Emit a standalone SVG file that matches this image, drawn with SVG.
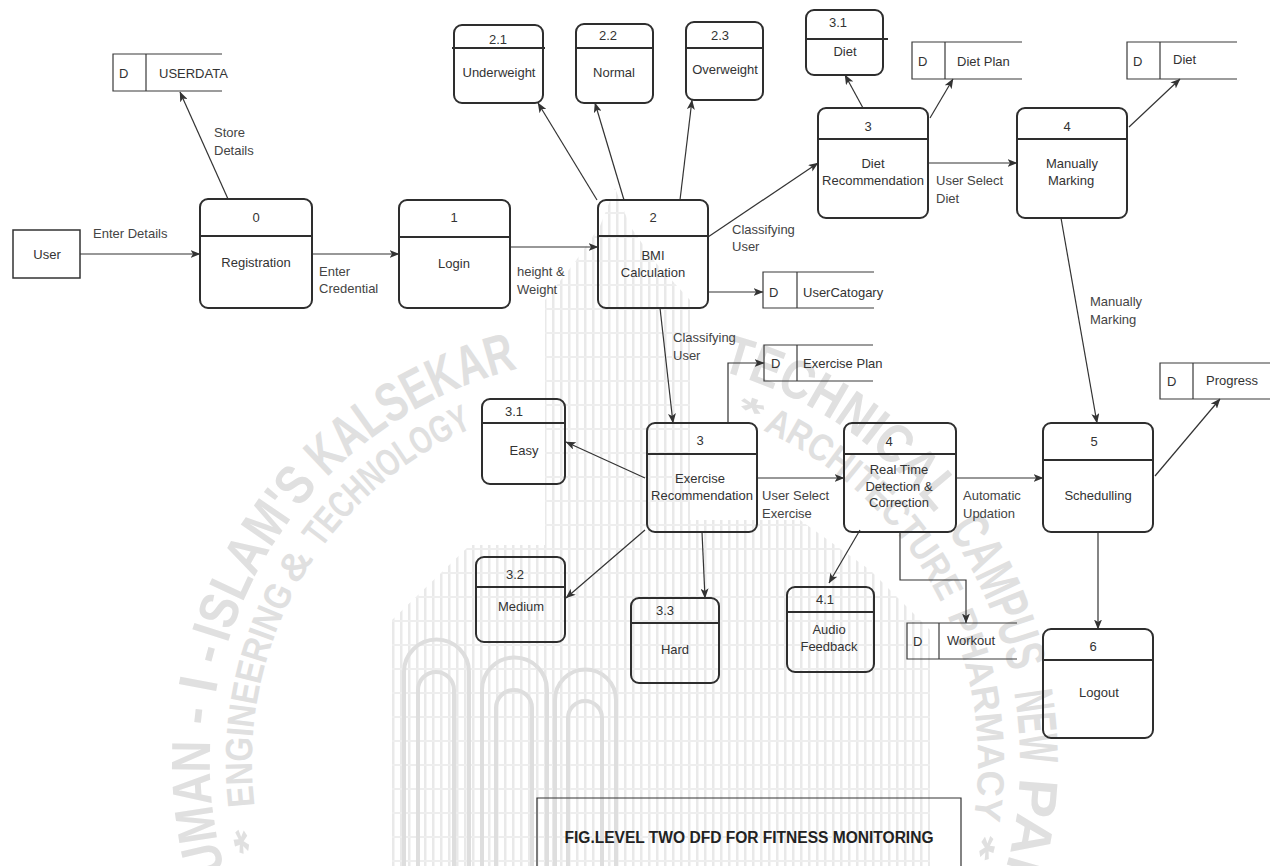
<svg xmlns="http://www.w3.org/2000/svg" width="1271" height="866" viewBox="0 0 1271 866">
  <defs>
    <marker id="arr" markerWidth="10" markerHeight="8" refX="9.5" refY="4" orient="auto" markerUnits="userSpaceOnUse">
      <path d="M0,0 L10,4 L0,8 L2.5,4 Z" fill="#333"/>
    </marker>
    <pattern id="wmTex" width="8" height="24" patternUnits="userSpaceOnUse">
      <rect x="0" y="0" width="2.5" height="24" fill="#e9e9e9"/>
      <rect x="0" y="20" width="8" height="2" fill="#eeeeee"/>
    </pattern>
    <!-- seal rings, traced clockwise from the bottom -->
    <path id="ringOuter" d="M615,1167 A405,405 0 0 1 210,762 A405,405 0 0 1 615,357 A405,405 0 0 1 1020,762 A405,405 0 0 1 615,1167"/>
    <path id="ringInner" d="M615,1125 A363,363 0 0 1 252,762 A363,363 0 0 1 615,399 A363,363 0 0 1 978,762 A363,363 0 0 1 615,1125"/>
  </defs>
  <style>
    text { font-family: "Liberation Sans", Arial, sans-serif; font-size: 13px; fill: #333; }
    .c { text-anchor: middle; }
    .lbl { fill: #444; }
    .proc rect { fill: none; stroke: #2e2e2e; stroke-width: 2; }
    .proc line { stroke: #2e2e2e; stroke-width: 2; }
    .ent rect { fill: none; stroke: #333; stroke-width: 1.5; }
    .store path { fill: none; stroke: #3a3a3a; stroke-width: 1.2; }
    #connectors path { fill: none; stroke: #333; stroke-width: 1.2; marker-end: url(#arr); }
    .wm text { font-weight: bold; fill: #e0e0e0; }
    .wm .o { font-size: 55px; }
    .wm .i { font-size: 38px; }
    .caption path { fill: none; stroke: #333; stroke-width: 1.2; }
    .caption text { font-weight: bold; font-size: 16px; fill: #222; }
  </style>

  <rect x="0" y="0" width="1271" height="866" fill="#fff"/>

  <!-- faint campus seal in the background -->
  <g id="seal" class="wm">
    <path d="M392,866 V620 L470,545 H545 V300 L575,262 L600,226 L615,188 L630,226 L655,262 L690,300 V520 H800 L870,570 L930,630 V866 Z" fill="url(#wmTex)"/>
    <g fill="none" stroke="#dedede" stroke-width="4">
      <path d="M404,866 V672 A32.5,32.5 0 0 1 469,672 V866"/>
      <path d="M482,866 V690 A32.5,32.5 0 0 1 547,690 V866"/>
      <path d="M555,866 V700 A30.5,30.5 0 0 1 616,700 V866"/>
      <path d="M418,866 V690 A18,18 0 0 1 454,690 V866"/>
      <path d="M496,866 V708 A18,18 0 0 1 532,708 V866"/>
      <path d="M568,866 V718 A17,17 0 0 1 602,718 V866"/>
    </g>
    <text class="o"><textPath href="#ringOuter" startOffset="438" textLength="219" lengthAdjust="spacingAndGlyphs">ANJUMAN</textPath></text>
    <text class="o"><textPath href="#ringOuter" startOffset="672" textLength="78" lengthAdjust="spacingAndGlyphs">- I -</textPath></text>
    <text class="o"><textPath href="#ringOuter" startOffset="756" textLength="184" lengthAdjust="spacingAndGlyphs">ISLAM'S</textPath></text>
    <text class="o"><textPath href="#ringOuter" startOffset="951" textLength="223" lengthAdjust="spacingAndGlyphs">KALSEKAR</textPath></text>
    <text class="o"><textPath href="#ringOuter" startOffset="1378" textLength="262" lengthAdjust="spacingAndGlyphs">TECHNICAL</textPath></text>
    <text class="o"><textPath href="#ringOuter" startOffset="1661" textLength="156" lengthAdjust="spacingAndGlyphs">CAMPUS</textPath></text>
    <text class="o"><textPath href="#ringOuter" startOffset="1838" textLength="71" lengthAdjust="spacingAndGlyphs">NEW</textPath></text>
    <text class="o"><textPath href="#ringOuter" startOffset="1923" textLength="233" lengthAdjust="spacingAndGlyphs">PANVEL</textPath></text>
    <text class="i"><textPath href="#ringInner" startOffset="481" textLength="25" lengthAdjust="spacingAndGlyphs">*</textPath></text>
    <text class="i"><textPath href="#ringInner" startOffset="526" textLength="222" lengthAdjust="spacingAndGlyphs">ENGINEERING</textPath></text>
    <text class="i"><textPath href="#ringInner" startOffset="754" textLength="32" lengthAdjust="spacingAndGlyphs">&amp;</textPath></text>
    <text class="i"><textPath href="#ringInner" startOffset="798" textLength="196" lengthAdjust="spacingAndGlyphs">TECHNOLOGY</textPath></text>
    <text class="i"><textPath href="#ringInner" startOffset="1261" textLength="25" lengthAdjust="spacingAndGlyphs">*</textPath></text>
    <text class="i"><textPath href="#ringInner" startOffset="1292" textLength="253" lengthAdjust="spacingAndGlyphs">ARCHITECTURE</textPath></text>
    <text class="i"><textPath href="#ringInner" startOffset="1559" textLength="209" lengthAdjust="spacingAndGlyphs">PHARMACY</textPath></text>
    <text class="i"><textPath href="#ringInner" startOffset="1780" textLength="25" lengthAdjust="spacingAndGlyphs">*</textPath></text>
  </g>

  <!-- connectors -->
  <g id="connectors">
    <path d="M80,254 H200"/>
    <path d="M228,199 L180,92"/>
    <path d="M312,254 H399"/>
    <path d="M510,247 H598"/>
    <path d="M597,200 L538,103"/>
    <path d="M624,200 L595,103"/>
    <path d="M680,200 L692,100"/>
    <path d="M708,237 L818,163"/>
    <path d="M708,292 H763"/>
    <path d="M660,308 L673,423"/>
    <path d="M863,108 L845,75"/>
    <path d="M930,118 L953,79"/>
    <path d="M928,163 H1017"/>
    <path d="M1129,127 L1180,79"/>
    <path d="M1061,218 L1097,423"/>
    <path d="M728,423 V363 H764"/>
    <path d="M645,478 L566,442"/>
    <path d="M645,530 L566,598"/>
    <path d="M702,532 L705,598"/>
    <path d="M757,478 H844"/>
    <path d="M860,530 L829,583"/>
    <path d="M900,532 V580 H966 V623"/>
    <path d="M956,478 H1043"/>
    <path d="M1155,476 L1220,399"/>
    <path d="M1098,532 V629"/>
  </g>

  <!-- flow labels -->
  <g id="flow-labels">
    <text class="lbl" x="93" y="238">Enter Details</text>
    <text class="lbl" x="214" y="137">Store</text>
    <text class="lbl" x="214" y="155">Details</text>
    <text class="lbl" x="319" y="276">Enter</text>
    <text class="lbl" x="319" y="293">Credential</text>
    <text class="lbl" x="517" y="276">height &amp;</text>
    <text class="lbl" x="517" y="294">Weight</text>
    <text class="lbl" x="732" y="234">Classifying</text>
    <text class="lbl" x="732" y="251">User</text>
    <text class="lbl" x="673" y="342">Classifying</text>
    <text class="lbl" x="673" y="360">User</text>
    <text class="lbl" x="936" y="185">User Select</text>
    <text class="lbl" x="936" y="203">Diet</text>
    <text class="lbl" x="1090" y="306">Manually</text>
    <text class="lbl" x="1090" y="324">Marking</text>
    <text class="lbl" x="762" y="500">User Select</text>
    <text class="lbl" x="762" y="518">Exercise</text>
    <text class="lbl" x="963" y="500">Automatic</text>
    <text class="lbl" x="963" y="518">Updation</text>
  </g>

  <!-- external entity -->
  <g id="user" class="ent">
    <rect x="13" y="230" width="67" height="48"/>
    <text class="c" x="47" y="259">User</text>
  </g>

  <!-- processes -->
  <g id="p0" class="proc">
    <rect x="200" y="199" width="112" height="109" rx="8"/>
    <line x1="200" y1="236" x2="312" y2="236"/>
    <text class="c" x="256" y="222">0</text>
    <text class="c" x="256" y="267">Registration</text>
  </g>
  <g id="p1" class="proc">
    <rect x="399" y="200" width="111" height="108" rx="8"/>
    <line x1="399" y1="237" x2="510" y2="237"/>
    <text class="c" x="454" y="222">1</text>
    <text class="c" x="454" y="268">Login</text>
  </g>
  <g id="p2" class="proc">
    <rect x="598" y="200" width="110" height="108" rx="8"/>
    <line x1="598" y1="236" x2="708" y2="236"/>
    <text class="c" x="653" y="222">2</text>
    <text class="c" x="653" y="260">BMI</text>
    <text class="c" x="653" y="277">Calculation</text>
  </g>
  <g id="p2-1" class="proc">
    <rect x="454" y="25" width="89" height="78" rx="8"/>
    <line x1="452" y1="48" x2="545" y2="48"/>
    <text class="c" x="498" y="44">2.1</text>
    <text class="c" x="499" y="77">Underweight</text>
  </g>
  <g id="p2-2" class="proc">
    <rect x="576" y="24" width="77" height="79" rx="8"/>
    <line x1="576" y1="48" x2="653" y2="48"/>
    <text class="c" x="608" y="40">2.2</text>
    <text class="c" x="614" y="77">Normal</text>
  </g>
  <g id="p2-3" class="proc">
    <rect x="686" y="22" width="77" height="78" rx="8"/>
    <line x1="686" y1="48" x2="763" y2="48"/>
    <text class="c" x="720" y="40">2.3</text>
    <text class="c" x="725" y="74">Overweight</text>
  </g>
  <g id="p3-1-diet" class="proc">
    <rect x="806" y="10" width="77" height="65" rx="8"/>
    <line x1="806" y1="39" x2="888" y2="39"/>
    <text class="c" x="838" y="27">3.1</text>
    <text class="c" x="845" y="56">Diet</text>
  </g>
  <g id="p3-diet" class="proc">
    <rect x="818" y="108" width="110" height="110" rx="8"/>
    <line x1="818" y1="139" x2="928" y2="139"/>
    <text class="c" x="868" y="131">3</text>
    <text class="c" x="873" y="168">Diet</text>
    <text class="c" x="873" y="185">Recommendation</text>
  </g>
  <g id="p4-marking" class="proc">
    <rect x="1017" y="108" width="110" height="110" rx="8"/>
    <line x1="1017" y1="139" x2="1127" y2="139"/>
    <text class="c" x="1067" y="131">4</text>
    <text class="c" x="1072" y="168">Manually</text>
    <text class="c" x="1071" y="185">Marking</text>
  </g>
  <g id="p3-exercise" class="proc">
    <rect x="647" y="423" width="110" height="109" rx="8"/>
    <line x1="647" y1="454" x2="757" y2="454"/>
    <text class="c" x="700" y="445">3</text>
    <text class="c" x="700" y="483">Exercise</text>
    <text class="c" x="702" y="500">Recommendation</text>
  </g>
  <g id="p3-1" class="proc">
    <rect x="482" y="399" width="83" height="85" rx="8"/>
    <line x1="482" y1="423" x2="565" y2="423"/>
    <text class="c" x="514" y="416">3.1</text>
    <text class="c" x="524" y="455">Easy</text>
  </g>
  <g id="p3-2" class="proc">
    <rect x="476" y="557" width="89" height="85" rx="8"/>
    <line x1="476" y1="587" x2="565" y2="587"/>
    <text class="c" x="515" y="579">3.2</text>
    <text class="c" x="521" y="611">Medium</text>
  </g>
  <g id="p3-3" class="proc">
    <rect x="631" y="598" width="88" height="85" rx="8"/>
    <line x1="631" y1="623" x2="719" y2="623"/>
    <text class="c" x="665" y="615">3.3</text>
    <text class="c" x="675" y="654">Hard</text>
  </g>
  <g id="p4-detection" class="proc">
    <rect x="844" y="423" width="112" height="109" rx="8"/>
    <line x1="844" y1="454" x2="956" y2="454"/>
    <text class="c" x="889" y="446">4</text>
    <text class="c" x="899" y="474">Real Time</text>
    <text class="c" x="899" y="491">Detection &amp;</text>
    <text class="c" x="899" y="507">Correction</text>
  </g>
  <g id="p4-1" class="proc">
    <rect x="787" y="587" width="87" height="85" rx="8"/>
    <line x1="787" y1="612" x2="874" y2="612"/>
    <text class="c" x="825" y="604">4.1</text>
    <text class="c" x="829" y="634">Audio</text>
    <text class="c" x="829" y="651">Feedback</text>
  </g>
  <g id="p5" class="proc">
    <rect x="1043" y="423" width="110" height="109" rx="8"/>
    <line x1="1043" y1="460" x2="1153" y2="460"/>
    <text class="c" x="1094" y="446">5</text>
    <text class="c" x="1098" y="500">Schedulling</text>
  </g>
  <g id="p6" class="proc">
    <rect x="1043" y="629" width="110" height="109" rx="8"/>
    <line x1="1043" y1="660" x2="1153" y2="660"/>
    <text class="c" x="1093" y="651">6</text>
    <text class="c" x="1099" y="697">Logout</text>
  </g>

  <!-- data stores -->
  <g id="ds-userdata" class="store">
    <path d="M222,54 H113 V91 H222 M146,54 V91"/>
    <text x="119" y="78">D</text>
    <text x="159" y="78">USERDATA</text>
  </g>
  <g id="ds-dietplan" class="store">
    <path d="M1022,42 H912 V79 H1022 M945,42 V79"/>
    <text x="918" y="66">D</text>
    <text x="957" y="66">Diet Plan</text>
  </g>
  <g id="ds-diet" class="store">
    <path d="M1237,42 H1127 V79 H1237 M1160,42 V79"/>
    <text x="1133" y="66">D</text>
    <text x="1173" y="64">Diet</text>
  </g>
  <g id="ds-usercategory" class="store">
    <path d="M874,272 H763 V308 H874 M797,272 V308"/>
    <text x="769" y="297">D</text>
    <text x="803" y="297">UserCatogary</text>
  </g>
  <g id="ds-exerciseplan" class="store">
    <path d="M873,345 H764 V381 H873 M797,345 V381"/>
    <text x="771" y="368">D</text>
    <text x="803" y="368">Exercise Plan</text>
  </g>
  <g id="ds-progress" class="store">
    <path d="M1270,363 H1160 V399 H1270 M1193,363 V399"/>
    <text x="1167" y="386">D</text>
    <text x="1206" y="385">Progress</text>
  </g>
  <g id="ds-workout" class="store">
    <path d="M1017,623 H907 V659 H1017 M939,623 V659"/>
    <text x="913" y="646">D</text>
    <text x="947" y="645">Workout</text>
  </g>

  <!-- figure caption -->
  <g id="caption" class="caption">
    <path d="M537,866 V798 H961 V866"/>
    <text class="c" x="749" y="843" textLength="369" lengthAdjust="spacingAndGlyphs">FIG.LEVEL TWO DFD FOR FITNESS MONITORING</text>
  </g>
</svg>
